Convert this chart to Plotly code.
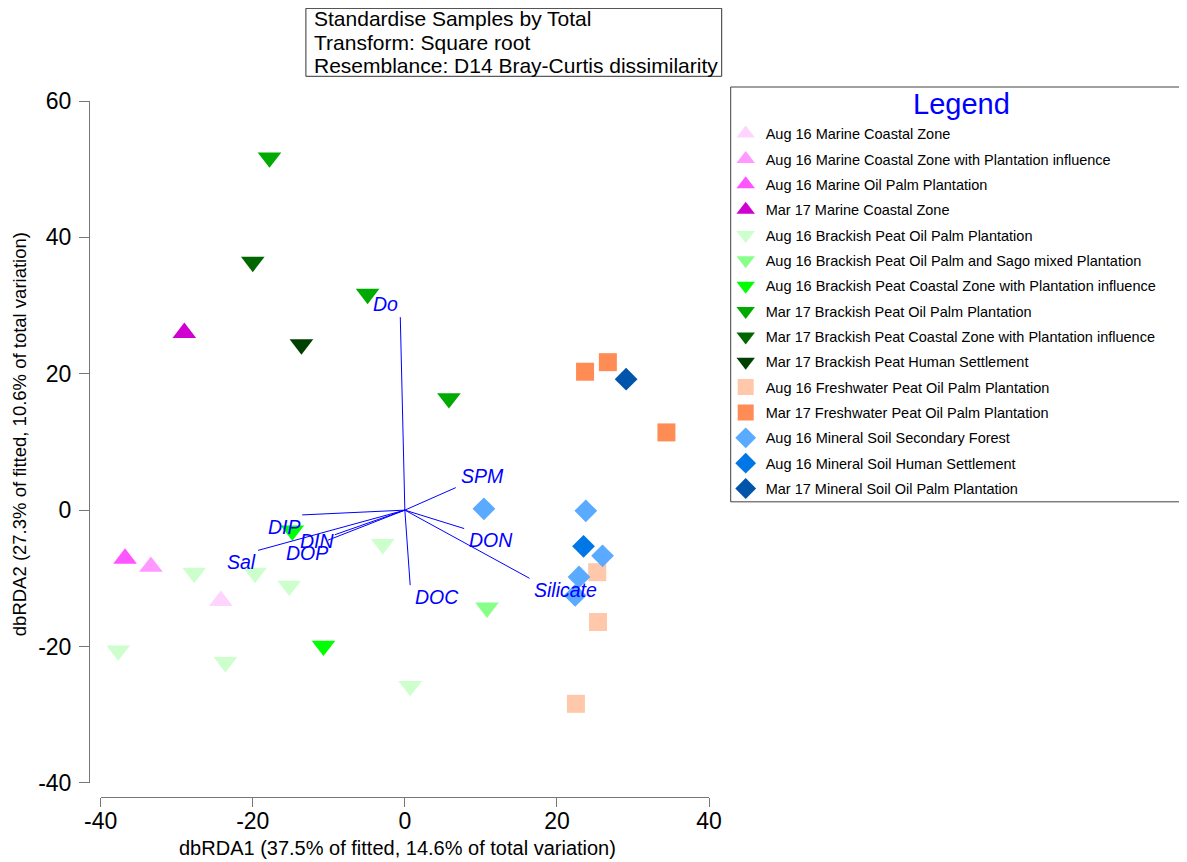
import plotly.graph_objects as go

# ---------------- data ----------------
groups = [
    "Aug 16 Marine Coastal Zone",
    "Aug 16 Marine Coastal Zone with Plantation influence",
    "Aug 16 Marine Oil Palm Plantation",
    "Mar 17 Marine Coastal Zone",
    "Aug 16 Brackish Peat Oil Palm Plantation",
    "Aug 16 Brackish Peat Oil Palm and Sago mixed Plantation",
    "Aug 16 Brackish Peat Coastal Zone with Plantation influence",
    "Mar 17 Brackish Peat Oil Palm Plantation",
    "Mar 17 Brackish Peat Coastal Zone with Plantation influence",
    "Mar 17 Brackish Peat Human Settlement",
    "Aug 16 Freshwater Peat Oil Palm Plantation",
    "Mar 17 Freshwater Peat Oil Palm Plantation",
    "Aug 16 Mineral Soil Secondary Forest",
    "Aug 16 Mineral Soil Human Settlement",
    "Mar 17 Mineral Soil Oil Palm Plantation",
]

x_values = [
    [-24.2],
    [-33.4],
    [-36.8],
    [-29.0],
    [-27.7, -19.7, -15.2, -2.9, -37.7, -23.6, 0.7],
    [10.8],
    [-10.7, -14.8],
    [-17.8, -4.9, 5.8],
    [-20.0],
    [-13.6],
    [25.3, 25.4, 22.5],
    [23.7, 26.7, 34.4],
    [10.4, 23.8, 26.0, 22.9, 22.4],
    [23.5],
    [29.1],
]
y_values = [
    [-13.3],
    [-8.3],
    [-7.1],
    [26.0],
    [-9.2, -9.2, -11.1, -5.0, -20.6, -22.3, -25.8],
    [-14.3],
    [-19.9, -3.0],
    [51.7, 31.7, 16.4],
    [36.4],
    [24.3],
    [-9.1, -16.4, -28.4],
    [20.3, 21.7, 11.4],
    [0.2, -0.1, -6.7, -9.8, -12.5],
    [-5.3],
    [19.2],
]

vector_names = ["Do", "SPM", "DON", "Silicate", "DOC", "DIP", "Sal", "DIN", "DOP"]
vector_x = [-0.6, 6.7, 7.8, 16.4, 0.7, -13.5, -19.3, -9.2, -10.1]
vector_y = [28.3, 3.3, -2.7, -10.0, -11.0, -0.7, -5.9, -3.6, -4.4]

x_ticks = [-40, -20, 0, 20, 40]
x_tick_text = ["-40", "-20", "0", "20", "40"]
y_ticks = [-40, -20, 0, 20, 40, 60]
y_tick_text = ["-40", "-20", "0", "20", "40", "60"]

x_title = "dbRDA1 (37.5% of fitted, 14.6% of total variation)"
y_title = "dbRDA2 (27.3% of fitted, 10.6% of total variation)"
info_lines = [
    "Standardise Samples by Total",
    "Transform: Square root",
    "Resemblance: D14 Bray-Curtis dissimilarity",
]

# ---------------- style ----------------
symbols = ["triangle-up"] * 4 + ["triangle-down"] * 6 + ["square"] * 2 + ["diamond"] * 3
colors = ["#FFD5FF", "#FF99FF", "#FF55FF", "#D000D0",
          "#CCFFCC", "#88FF88", "#00FF00", "#00AA00", "#006600", "#004000",
          "#FFC8AA", "#FF8C55", "#5AAAFF", "#0077E6", "#0055AA"]
sizes = {"triangle-up": 20.5, "triangle-down": 20.5, "square": 18, "diamond": 17.5}
# label pixel offsets (dx, dy in screen px, dy down positive)
label_offsets = {"Do": (-15, -13), "SPM": (27, -12), "DON": (27, 11), "Silicate": (36, 12),
                 "DOC": (27, 12), "DIP": (-18, 12), "Sal": (-17, 12), "DIN": (-17, 6), "DOP": (-21, 13)}

FONT = "Liberation Sans, Arial, sans-serif"
OFF = 8                      # page body margin
W, H = 1179, 854
# plot paper edges in page pixel coordinates
P_LEFT, P_RIGHT, P_TOP, P_BOTTOM = 89, 709.3, 100.7, 797
ML = P_LEFT - OFF
MT = P_TOP - OFF
MR = W - (P_RIGHT - OFF)
MB = H - (P_BOTTOM - OFF)
PW = P_RIGHT - P_LEFT
PH = P_BOTTOM - P_TOP


def px(xp):
    return (xp - P_LEFT) / PW


def py(yp):
    return (P_BOTTOM - yp) / PH


fig = go.Figure()

for i, name in enumerate(groups):
    fig.add_trace(go.Scatter(
        x=x_values[i], y=y_values[i], mode="markers", name=name,
        legendgroup=name,
        marker=dict(symbol=symbols[i], color=colors[i], size=sizes[symbols[i]],
                    line=dict(width=0)),
        cliponaxis=False,
    ))

for vn, vx, vy in zip(vector_names, vector_x, vector_y):
    fig.add_trace(go.Scatter(
        x=[0, vx], y=[0, vy], mode="lines", showlegend=False,
        line=dict(color="#0000FF", width=1), hoverinfo="skip",
    ))
    dx, dy = label_offsets[vn]
    fig.add_annotation(x=vx, y=vy, xref="x", yref="y", text=vn, showarrow=False,
                       xshift=dx, yshift=-dy, xanchor="center", yanchor="middle",
                       font=dict(family=FONT, size=19.5, color="#0000FF", style="italic"))

axis_common = dict(showgrid=False, zeroline=False, showline=True, linecolor="#777777",
                   linewidth=1, ticks="outside", tickcolor="#777777", tickwidth=1,
                   tickfont=dict(family=FONT, size=23, color="#000000"),
                   anchor="free", position=0, tickmode="array")

fig.update_layout(
    width=W, height=H,
    margin=dict(l=ML, r=MR, t=MT, b=MB, pad=0),
    paper_bgcolor="white", plot_bgcolor="white",
    font=dict(family=FONT, color="#000000"),
    xaxis=dict(range=[-40, 40], domain=[11.7 / PW, 1], tickvals=x_ticks,
               ticktext=x_tick_text, ticklen=9, ticklabelstandoff=-6, **axis_common),
    yaxis=dict(range=[-40, 60], domain=[14.1 / PH, 1], tickvals=y_ticks,
               ticktext=y_tick_text, ticklen=10, ticklabelstandoff=3, **axis_common),
    showlegend=True,
    legend=dict(x=px(726), y=py(117.4), xanchor="left", yanchor="top",
                font=dict(family=FONT, size=14.5, color="#000000"),
                bgcolor="rgba(0,0,0,0)", borderwidth=0, tracegroupgap=3.5,
                itemclick=False),
)

# axis titles
fig.add_annotation(x=px(398), y=py(848), xref="paper", yref="paper", text=x_title,
                   showarrow=False, xanchor="center", yanchor="middle",
                   font=dict(family=FONT, size=20, color="#000000"))
fig.add_annotation(x=px(19), y=py(434), xref="paper", yref="paper", text=y_title,
                   showarrow=False, textangle=-90, xanchor="center", yanchor="middle",
                   font=dict(family=FONT, size=18.5, color="#000000"))

# info box
fig.add_shape(type="rect", xref="paper", yref="paper", x0=px(306), x1=px(722),
              y0=py(76), y1=py(8), line=dict(color="#333333", width=1))
for line_text, yc in zip(info_lines, [18.5, 42, 65.5]):
    fig.add_annotation(x=px(312), y=py(yc), xref="paper", yref="paper", text=line_text,
                       showarrow=False, xanchor="left", yanchor="middle",
                       font=dict(family=FONT, size=21, color="#000000"))

# legend box + title
fig.add_shape(type="rect", xref="paper", yref="paper", x0=px(731), x1=px(1185),
              y0=py(501.7), y1=py(86.7), line=dict(color="#404040", width=1))
fig.add_annotation(x=px(961.7), y=py(104), xref="paper", yref="paper", text="Legend",
                   showarrow=False, xanchor="center", yanchor="middle",
                   font=dict(family=FONT, size=29, color="#0000FF"))

fig.write_html("out.html")
